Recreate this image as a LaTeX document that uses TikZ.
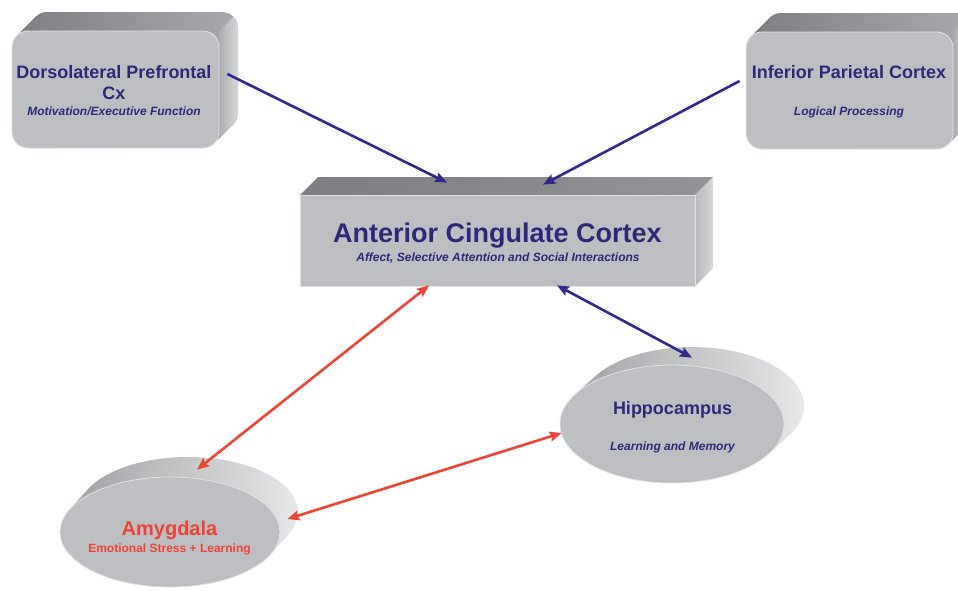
\documentclass[tikz,border=0pt]{standalone}
\usepackage{fontspec}
\setmainfont{Liberation Sans}
\usetikzlibrary{arrows.meta,shapes.geometric}
\definecolor{lineblue}{HTML}{2E2A8C}
\definecolor{textblue}{HTML}{2C2A78}
\definecolor{linered}{HTML}{EE4436}
\definecolor{facegray}{HTML}{BDBEC2}
\definecolor{topgray}{HTML}{939498}
\definecolor{sidegray}{HTML}{D6D7D9}
\begin{document}
\begin{tikzpicture}[x=1pt,y=-1pt,>={Stealth[length=12pt,width=10pt,inset=2pt]},
    face/.style={fill=facegray,draw=white!55!facegray,line width=.8pt,inner sep=0pt},
    slab/.style={face,rectangle,rounded corners=16pt,minimum width=207,minimum height=117},
    disc/.style={face,ellipse},
    big/.style={anchor=base,text=textblue,font=\fontsize{27}{30}\selectfont\bfseries},
    mid/.style={anchor=base,text=textblue,font=\fontsize{18}{21}\selectfont\bfseries},
    sub/.style={anchor=base,text=textblue,font=\fontsize{12}{14}\selectfont\bfseries\itshape},
    link/.style={draw=lineblue,line width=2.6pt},
    redlink/.style={link,draw=linered}]
  \useasboundingbox (0,0) rectangle (958,590);
  \foreach \bx/\by in {12/31,746/32} {
    \shade[rounded corners=16pt,left color=topgray!85!black,right color=topgray!80!white]
      \foreach \i in {0,...,19} {(\bx+\i,\by-\i) rectangle (\bx+207+\i,\by+117-\i)};
    \begin{scope}
      \clip[rounded corners=16pt] \foreach \i in {0,...,19} {(\bx+\i,\by-\i) rectangle (\bx+207+\i,\by+117-\i)};
      \shade[left color=sidegray!80!black,right color=sidegray]
        (\bx+207,\by) -- (\bx+226,\by-19) -- (\bx+226,\by+98) -- (\bx+207,\by+117) -- cycle;
    \end{scope}
  }
  \shade[left color=topgray!85!black,right color=topgray] (300,195) -- (318,177) -- (713,177) -- (695,195) -- cycle;
  \shade[left color=sidegray!85!black,right color=sidegray] (695,195) -- (713,177) -- (713,268) -- (695,286) -- cycle;
  \shade[left color=topgray!90!white,right color=sidegray!60!white]
    \foreach \i in {0,...,20} {(672+\i,424-0.9*\i) ellipse [x radius=112,y radius=59]};
  \shade[left color=topgray!90!white,right color=sidegray!60!white]
    \foreach \i in {0,...,20} {(170+0.9*\i,532-\i) ellipse [x radius=110,y radius=55]};
  \node[slab] (dlpfc) at (115.5,89.5) {};
  \node[slab] (ipc) at (849.5,90.5) {};
  \node[face,rectangle,minimum width=395,minimum height=91] (acc) at (497.5,240.5) {};
  \node[disc,minimum width=224,minimum height=118] (hippo) at (672,424) {};
  \node[disc,minimum width=220,minimum height=110] (amyg) at (170,532) {};
  \node[mid] (dlpfc-name) at (114,78.5) {Dorsolateral Prefrontal};
  \node[mid] (dlpfc-cx) at (114,99.5) {Cx};
  \node[sub] (dlpfc-role) at (114,115.3) {Motivation/Executive Function};
  \node[mid] (ipc-name) at (849,78.5) {Inferior Parietal Cortex};
  \node[sub] (ipc-role) at (849,115.3) {Logical Processing};
  \node[big] (acc-name) at (497.5,242.7) {Anterior Cingulate Cortex};
  \node[sub] (acc-role) at (498,261.3) {Affect, Selective Attention and Social Interactions};
  \node[mid] (hippo-name) at (672.5,414.5) {Hippocampus};
  \node[sub] (hippo-role) at (672.5,450.3) {Learning and Memory};
  \node[mid,text=linered,font=\fontsize{20}{24}\selectfont\bfseries] (amyg-name) at (169.5,535) {Amygdala};
  \node[sub,text=linered,font=\fontsize{12}{14}\selectfont\bfseries] (amyg-role) at (169.5,552.3) {Emotional Stress + Learning};
  \draw[link,->] ([shift={(8,-15.5)}]dlpfc.east) -- ([shift={(-50.5,-12)}]acc.north);
  \draw[link,->] ([shift={(-6,-9.5)}]ipc.west) -- ([shift={(45.5,-10)}]acc.north);
  \draw[link,<->] ([shift={(59.5,-1)}]acc.south) -- ([shift={(20,-7)}]hippo.north);
  \draw[redlink,<->] ([shift={(-68.5,-1)}]acc.south) -- ([shift={(27,-7)}]amyg.north);
  \draw[redlink,<->] ([shift={(7,-13)}]amyg.east) -- ([shift={(2,9)}]hippo.west);
\end{tikzpicture}
\end{document}
